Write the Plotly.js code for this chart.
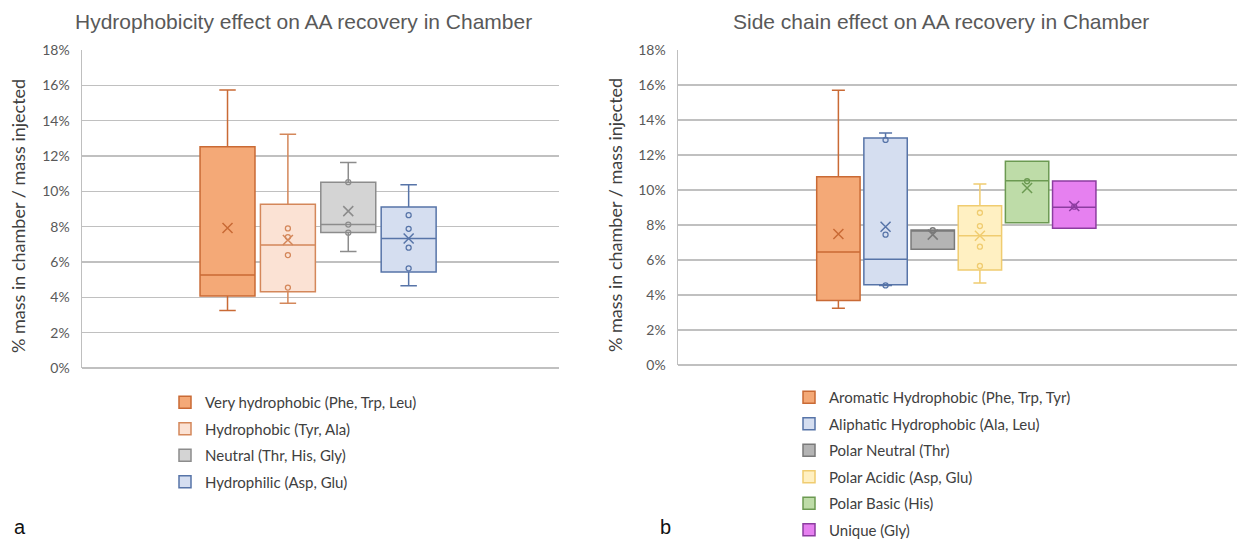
<!DOCTYPE html>
<html>
<head>
<meta charset="utf-8">
<script src="https://cdn.plot.ly/plotly-3.0.1.min.js"></script>
<style>
html,body{margin:0;padding:0;background:#fff;width:1238px;height:541px;overflow:hidden;}
#chart{width:1238px;height:541px;overflow:hidden;display:block;}
</style>
</head>
<body>
<div id="chart"></div>
<script>
// ---- Chart a: hydrophobicity ----
const hydroGroups = ['Very hydrophobic (Phe, Trp, Leu)', 'Hydrophobic (Tyr, Ala)', 'Neutral (Thr, His, Gly)', 'Hydrophilic (Asp, Glu)'];
const hydroMin    = [0.0325, 0.0366, 0.0660, 0.0466];
const hydroQ1     = [0.0407, 0.0432, 0.0767, 0.0543];
const hydroMedian = [0.0526, 0.0696, 0.0812, 0.0733];
const hydroQ3     = [0.1253, 0.0927, 0.1052, 0.0912];
const hydroMax    = [0.1573, 0.1323, 0.1163, 0.1037];
const hydroMean   = [0.0792, 0.0724, 0.0888, 0.0733];
const hydroPoints = [[], [0.0790, 0.0741, 0.0639, 0.0455], [0.1052, 0.0812, 0.0766], [0.0865, 0.0788, 0.0681, 0.0564]];

// ---- Chart b: side chain ----
const sideGroups = ['Aromatic Hydrophobic (Phe, Trp, Tyr)', 'Aliphatic Hydrophobic (Ala, Leu)', 'Polar Neutral (Thr)', 'Polar Acidic (Asp, Glu)', 'Polar Basic (His)', 'Unique (Gly)'];
const sideMin    = [0.0324, 0.0455, 0.0661, 0.0469, 0.0813, 0.0781];
const sideQ1     = [0.0368, 0.0459, 0.0661, 0.0543, 0.0813, 0.0781];
const sideMedian = [0.0646, 0.0604, 0.0771, 0.0739, 0.1053, 0.0901];
const sideQ3     = [0.1076, 0.1297, 0.0771, 0.0910, 0.1164, 0.1051];
const sideMax    = [0.1570, 0.1326, 0.0771, 0.1034, 0.1164, 0.1051];
const sideMean   = [0.0749, 0.0790, 0.0745, 0.0739, 0.1011, 0.0909];
const sidePoints = [[], [0.1286, 0.0745, 0.0455], [0.0770], [0.0870, 0.0794, 0.0676, 0.0566], [0.1050], [0.0905]];

const yTicks = [0, 0.02, 0.04, 0.06, 0.08, 0.10, 0.12, 0.14, 0.16, 0.18];

// styles
const hydroFill = ['#F4A977', '#FBE2D4', '#D4D4D4', '#D5DEF0'];
const hydroLine = ['#C96A35', '#D4875A', '#8C8C8C', '#5774A8'];
const sideFill  = ['#F4A977', '#D5DEF0', '#B4B4B4', '#FFF0C2', '#BEDCA8', '#E680F0'];
const sideLine  = ['#C96A35', '#5774A8', '#7A7A7A', '#F0CC70', '#6C9A52', '#8C3CA0'];

const traces = [];
function addChart(groups, mn, q1, med, q3, mx, mean, pts, fill, line, xa, ya, leg, w) {
  groups.forEach((g, i) => {
    traces.push({
      type: 'box', name: g, x: [g], q1: [q1[i]], median: [med[i]], q3: [q3[i]],
      lowerfence: [mn[i]], upperfence: [mx[i]], orientation: 'v',
      boxpoints: false, fillcolor: fill[i], line: {color: line[i], width: 1.5},
      whiskerwidth: 0.3, width: w, xaxis: xa, yaxis: ya, legend: leg,
      legendgroup: leg + i, hoverinfo: 'skip'
    });
    if (pts[i].length) {
      traces.push({
        type: 'scatter', mode: 'markers', x: pts[i].map(() => g), y: pts[i],
        marker: {symbol: 'circle-open', size: 5, color: line[i], line: {width: 1.3, color: line[i]}},
        xaxis: xa, yaxis: ya, showlegend: false, hoverinfo: 'skip'
      });
    }
    traces.push({
      type: 'scatter', mode: 'markers', x: [g], y: [mean[i]],
      marker: {symbol: 'x-thin-open', size: 10, color: line[i], line: {width: 1.5, color: line[i]}},
      xaxis: xa, yaxis: ya, showlegend: false, hoverinfo: 'skip'
    });
  });
}
addChart(hydroGroups, hydroMin, hydroQ1, hydroMedian, hydroQ3, hydroMax, hydroMean, hydroPoints, hydroFill, hydroLine, 'x', 'y', 'legend', 0.91);
addChart(sideGroups, sideMin, sideQ1, sideMedian, sideQ3, sideMax, sideMean, sidePoints, sideFill, sideLine, 'x2', 'y2', 'legend2', 0.92);

const W = 1238, H = 541;
const tickFont = {family: 'Lato, Carlito, sans-serif', size: 14, color: '#595959'};
const yBase = {
  range: [0, 0.18], tickvals: yTicks, tickformat: '.0%', showgrid: true, gridcolor: '#C0C0C0', gridwidth: 1.3,
  zeroline: true, zerolinecolor: '#C0C0C0', zerolinewidth: 1.3, showline: true, linecolor: '#BFBFBF', linewidth: 1.5,
  ticks: '', ticklabelstandoff: 8, tickfont: tickFont, fixedrange: true
};
const xBase = {type: 'category', showgrid: false, zeroline: false, showline: false, showticklabels: false, ticks: '', fixedrange: true};
const legBase = {
  orientation: 'v', xanchor: 'left', yanchor: 'top', traceorder: 'grouped',
  font: {family: 'Lato, Carlito, sans-serif', size: 15, color: '#404040'}, bgcolor: 'rgba(0,0,0,0)', borderwidth: 0
};
const titleFont = {family: 'Liberation Sans, Arial, sans-serif', size: 21, color: '#595959'};
const axTitleFont = {family: 'Lato, Carlito, sans-serif', size: 18, color: '#404040'};

const layout = {
  width: W, height: H, margin: {l: 0, r: 0, t: 0, b: 0, autoexpand: false},
  paper_bgcolor: '#fff', plot_bgcolor: '#fff', showlegend: true,
  xaxis: Object.assign({}, xBase, {domain: [82 / W, 559 / W], range: [-2.41, 5.49], anchor: 'y'}),
  yaxis: Object.assign({}, yBase, {domain: [(H - 368) / H, (H - 50) / H], anchor: 'x'}),
  xaxis2: Object.assign({}, xBase, {domain: [678 / W, 1237 / W], range: [-3.4, 8.45], anchor: 'y2'}),
  yaxis2: Object.assign({}, yBase, {domain: [(H - 365) / H, (H - 50) / H], anchor: 'x2'}),
  legend: Object.assign({}, legBase, {x: 165 / W, y: (H - 386) / H, tracegroupgap: 4}),
  legend2: Object.assign({}, legBase, {x: 789 / W, y: (H - 381) / H, tracegroupgap: 4}),
  annotations: [
    {text: 'Hydrophobicity effect on AA recovery in Chamber', xref: 'paper', yref: 'paper', x: 303 / W, y: (H - 22) / H,
     xanchor: 'center', yanchor: 'middle', showarrow: false, font: titleFont},
    {text: 'Side chain effect on AA recovery in Chamber', xref: 'paper', yref: 'paper', x: 941 / W, y: (H - 22) / H,
     xanchor: 'center', yanchor: 'middle', showarrow: false, font: titleFont},
    {text: '% mass in chamber / mass injected', xref: 'paper', yref: 'paper', x: 18 / W, y: (H - 216) / H,
     xanchor: 'center', yanchor: 'middle', textangle: -90, showarrow: false, font: axTitleFont},
    {text: '% mass in chamber / mass injected', xref: 'paper', yref: 'paper', x: 615 / W, y: (H - 215) / H,
     xanchor: 'center', yanchor: 'middle', textangle: -90, showarrow: false, font: axTitleFont},
    {text: 'a', xref: 'paper', yref: 'paper', x: 20 / W, y: (H - 527) / H, xanchor: 'center', yanchor: 'middle',
     showarrow: false, font: {family: 'Liberation Sans, Arial, sans-serif', size: 20, color: '#111'}},
    {text: 'b', xref: 'paper', yref: 'paper', x: 665 / W, y: (H - 527) / H, xanchor: 'center', yanchor: 'middle',
     showarrow: false, font: {family: 'Liberation Sans, Arial, sans-serif', size: 20, color: '#111'}}
  ]
};
Plotly.newPlot('chart', traces, layout, {staticPlot: true, displayModeBar: false});
</script>
</body>
</html>
